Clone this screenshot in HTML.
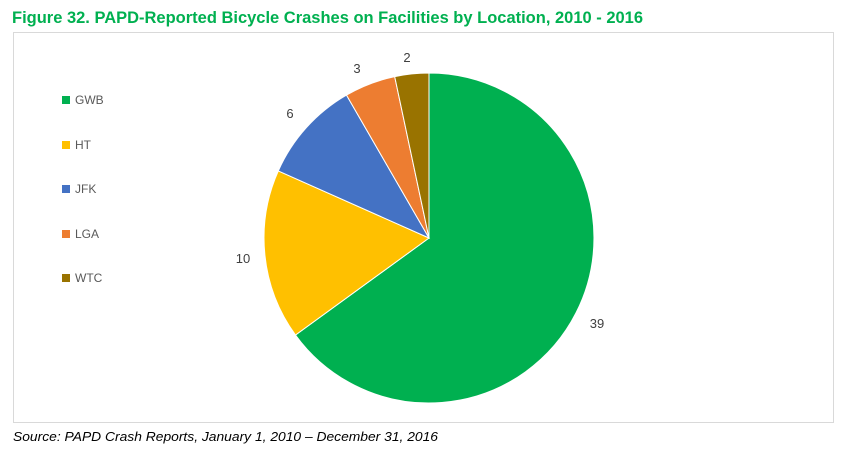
<!DOCTYPE html>
<html><head><meta charset="utf-8"><style>body{margin:0;background:#fff}svg{display:block}</style></head>
<body>
<svg width="848" height="449" xmlns="http://www.w3.org/2000/svg" font-family="Liberation Sans, sans-serif">
<text x="12" y="23" font-size="17" font-weight="bold" fill="#00B050" textLength="631" lengthAdjust="spacingAndGlyphs">Figure 32. PAPD-Reported Bicycle Crashes on Facilities by Location, 2010 - 2016</text>
<rect x="13.5" y="32.5" width="820" height="390" fill="#fff" stroke="#d9d9d9"/>
<g stroke="#fff" stroke-width="1">
<path d="M429,238 L429,73 A165,165 0 1 1 295.5,335 Z" fill="#00B050"/>
<path d="M429,238 L295.5,335 A165,165 0 0 1 278.3,170.9 Z" fill="#FFC000"/>
<path d="M429,238 L278.3,170.9 A165,165 0 0 1 346.5,95.1 Z" fill="#4472C4"/>
<path d="M429,238 L346.5,95.1 A165,165 0 0 1 394.7,76.6 Z" fill="#ED7D31"/>
<path d="M429,238 L394.7,76.6 A165,165 0 0 1 429,73 Z" fill="#997300"/>
</g>
<g font-size="13" fill="#404040" text-anchor="middle">
<text x="597" y="328">39</text>
<text x="243" y="263">10</text>
<text x="290" y="118">6</text>
<text x="357" y="73">3</text>
<text x="407" y="62">2</text>
</g>
<g font-size="12" fill="#595959">
<rect x="62" y="96" width="8" height="8" fill="#00B050"/><text x="75" y="104">GWB</text>
<rect x="62" y="141" width="8" height="8" fill="#FFC000"/><text x="75" y="149">HT</text>
<rect x="62" y="185" width="8" height="8" fill="#4472C4"/><text x="75" y="193">JFK</text>
<rect x="62" y="230" width="8" height="8" fill="#ED7D31"/><text x="75" y="238">LGA</text>
<rect x="62" y="274" width="8" height="8" fill="#997300"/><text x="75" y="282">WTC</text>
</g>
<text x="13" y="441" font-size="13" font-style="italic" fill="#000" textLength="425" lengthAdjust="spacingAndGlyphs">Source: PAPD Crash Reports, January 1, 2010 – December 31, 2016</text>
</svg>
</body></html>
